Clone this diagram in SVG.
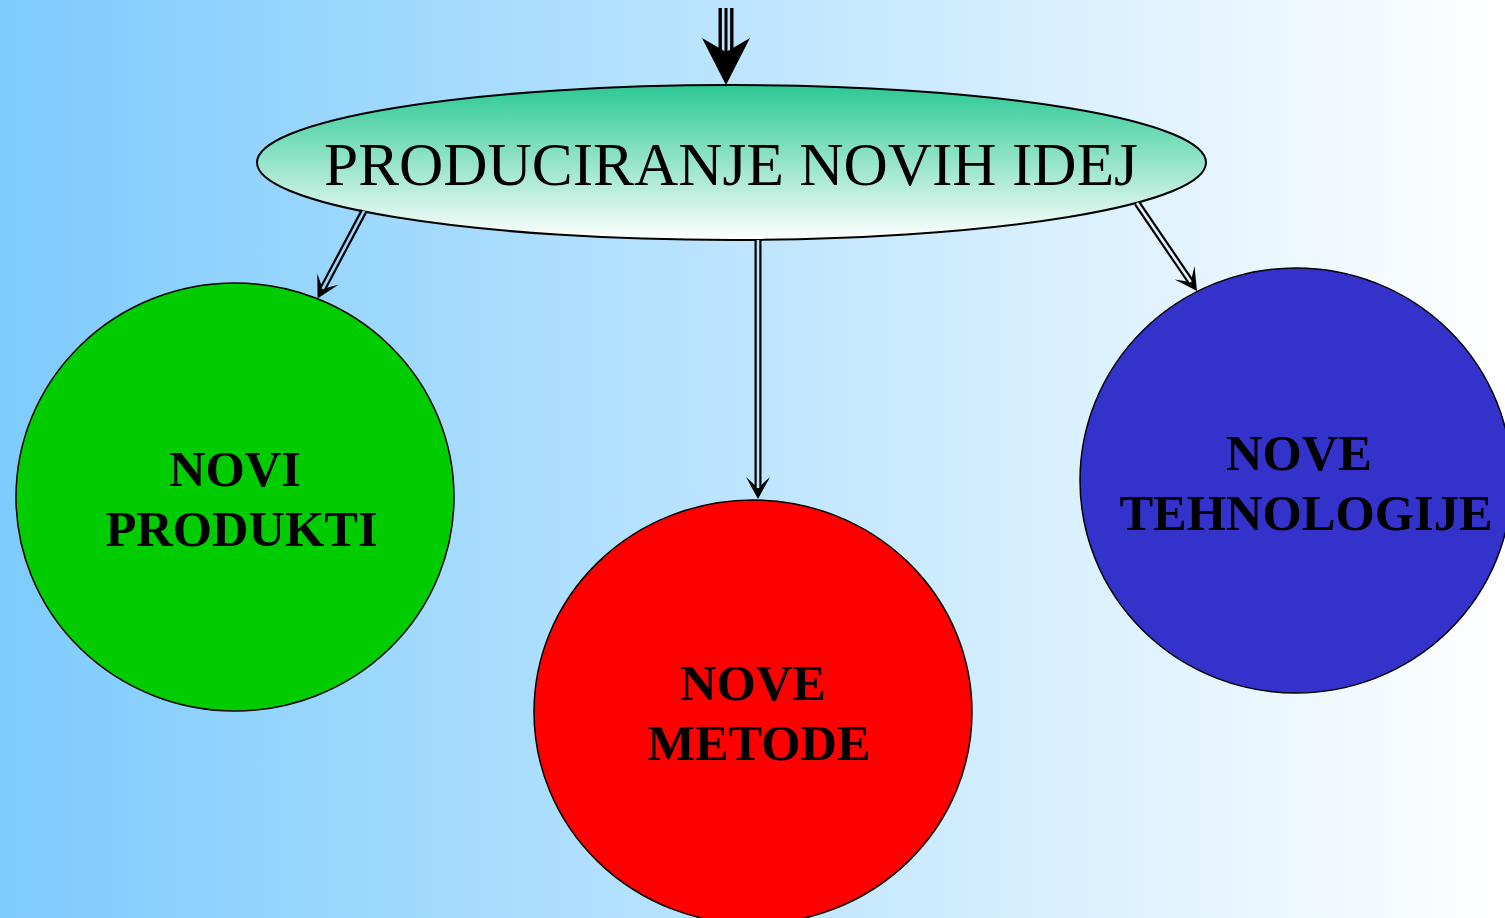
<svg xmlns="http://www.w3.org/2000/svg" width="1505" height="918" viewBox="0 0 1505 918">
<defs>
<linearGradient id="bg" gradientUnits="userSpaceOnUse" x1="0" y1="0" x2="1505" y2="0">
<stop offset="0" stop-color="#7dcbfd"/>
<stop offset="1" stop-color="#ffffff"/>
</linearGradient>
<linearGradient id="eg" x1="0" y1="0" x2="0" y2="1">
<stop offset="0" stop-color="#2cc994"/>
<stop offset="1" stop-color="#ffffff"/>
</linearGradient>
<marker id="ah" viewBox="-23 -13 25 26" markerWidth="25" markerHeight="26" refX="-11" refY="0" orient="auto" markerUnits="userSpaceOnUse">
<path d="M0,0 L-22,-12 L-11,0 L-22,12 Z" fill="#000"/>
</marker>
<style>
.node{stroke:#000;stroke-width:1.5}
.title{font-family:"Liberation Serif","Times New Roman",serif;font-size:61.3px;text-anchor:middle;fill:#000}
.lbl{font-family:"Liberation Serif","Times New Roman",serif;font-size:50.5px;font-weight:bold;text-anchor:middle;fill:#000}
.outer{stroke:#000;stroke-width:7;fill:none}
.inner{stroke:url(#bg);stroke-width:2.6;fill:none}
</style>
</defs>
<rect x="0" y="0" width="1505" height="918" fill="url(#bg)"/>

<g id="node-ideje">
<ellipse cx="731.5" cy="162.5" rx="474.5" ry="77.5" fill="url(#eg)" stroke="#000" stroke-width="2"/>
<text class="title" x="731" y="185">PRODUCIRANJE NOVIH IDEJ</text>
</g>
<g id="node-produkti">
<ellipse class="node" cx="235" cy="497" rx="219" ry="214" fill="#00cc00"/>
<text class="lbl" x="235" y="486">NOVI</text>
<text class="lbl" x="241.5" y="546">PRODUKTI</text>
</g>
<g id="node-metode">
<ellipse class="node" cx="753" cy="712" rx="219" ry="212" fill="#ff0000"/>
<text class="lbl" x="753" y="700">NOVE</text>
<text class="lbl" x="759" y="760">METODE</text>
</g>
<g id="node-tehnologije">
<ellipse class="node" cx="1296" cy="480.5" rx="216" ry="212.5" fill="#3333cc"/>
<text class="lbl" x="1299" y="470">NOVE</text>
<text class="lbl" x="1306" y="530">TEHNOLOGIJE</text>
</g>

<g id="connectors">
<g id="c-top">
<line x1="726" y1="8" x2="726" y2="53" stroke="#000" stroke-width="15"/>
<line x1="723.2" y1="8" x2="723.2" y2="53" class="inner"/>
<line x1="728.8" y1="8" x2="728.8" y2="53" class="inner"/>
<path d="M726,85 L702,38 L726,52 L750,38 Z" fill="#000"/>
</g>
<g id="c-left">
<path class="outer" d="M364,211 L322.7,288.8" marker-end="url(#ah)"/>
<path class="inner" d="M364,211 L322.7,288.8"/>
</g>
<g id="c-mid">
<path class="outer" d="M758,240 L758,488" marker-end="url(#ah)"/>
<path class="inner" d="M758,240 L758,488"/>
</g>
<g id="c-right">
<path class="outer" d="M1137,203 L1190.8,281.9" marker-end="url(#ah)"/>
<path class="inner" d="M1137,203 L1190.8,281.9"/>
</g>
</g>
</svg>
